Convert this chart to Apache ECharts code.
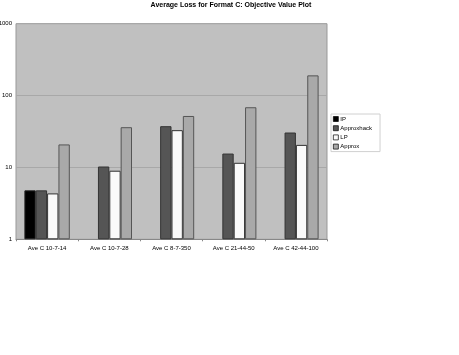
<!DOCTYPE html>
<html><head><meta charset="utf-8">
<script src="https://cdn.jsdelivr.net/npm/echarts@6/dist/echarts.min.js"></script>
<style>html,body{margin:0;padding:0;background:#fff}#c{width:459px;height:355px}</style>
</head><body><div id="c"></div>
<script>
const categories = ['Ave C 10-7-14','Ave C 10-7-28','Ave C 8-7-350','Ave C 21-44-50','Ave C 42-44-100'];
const seriesNames = ['IP','Approxhack','LP','Approx'];
const ipVals = [4.8, null, null, null, null];
const approxhackVals = [4.8, 10.3, 37.5, 15.6, 30.6];
const lpVals = [4.35, 9.0, 33, 11.6, 20.6];
const approxVals = [20.9, 36.3, 52, 68.8, 191];
const colors = ['#000000','#555555','#fafafa','#a9a9a9'];
const borders = ['#222222','#333333','#333333','#555555'];
const allVals = [ipVals, approxhackVals, lpVals, approxVals];
const chart = echarts.init(document.getElementById('c'));
const font = 'Liberation Sans, Arial, sans-serif';
chart.setOption({
  animation:false,
  title:{text:'Average Loss for Format C: Objective Value Plot',left:226,textAlign:'center',top:-3,
    textStyle:{fontSize:7,fontWeight:'bold',color:'#000',fontFamily:font}},
  grid:{left:16,right:132,top:23.7,bottom:115.7,outerBoundsMode:'none',containLabel:false,show:true,backgroundColor:'#c0c0c0',borderWidth:1,borderColor:'#999'},
  legend:{orient:'vertical',left:331,top:114,itemWidth:5,itemHeight:5,itemGap:3.2,padding:[2,8,2,2],
    borderColor:'#d0d0d0',borderWidth:1,textStyle:{fontSize:6,color:'#000',fontFamily:font,padding:[0,0,0,-3]},
    data:seriesNames.map((n,i)=>({name:n,icon:'rect',itemStyle:{color:colors[i],borderColor:'#000',borderWidth:0.7}}))},
  xAxis:{type:'category',data:categories,
    axisLine:{lineStyle:{color:'#888'}},axisTick:{show:true,length:2,lineStyle:{color:'#888'}},
    axisLabel:{fontSize:6,color:'#000',fontFamily:font,margin:6,interval:0}},
  yAxis:{type:'log',logBase:10,min:1,max:1000,
    axisLine:{show:false},axisTick:{show:false},
    axisLabel:{fontSize:6,color:'#000',fontFamily:font,margin:4,formatter:v=>String(Math.round(v))},
    splitLine:{lineStyle:{color:'#a8a8a8',width:1}}},
  series:seriesNames.map((n,i)=>({name:n,type:'bar',data:allVals[i],barGap:'0%',barCategoryGap:'27%',
    itemStyle:{color:colors[i],borderColor:borders[i],borderWidth:1}}))
});
</script></body></html>
